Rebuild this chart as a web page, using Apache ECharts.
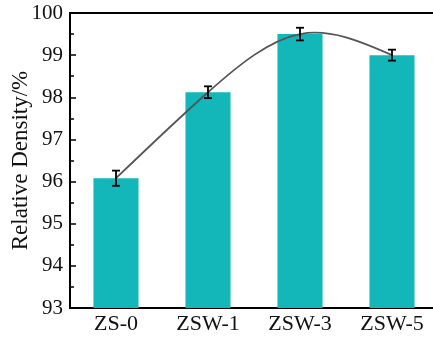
<!DOCTYPE html>
<html>
<head>
<meta charset="utf-8">
<script src="https://cdn.jsdelivr.net/npm/echarts@6/dist/echarts.min.js"></script>
<style>
html,body{margin:0;padding:0;background:#fff;}
#main{width:433px;height:340px;}
</style>
</head>
<body>
<div id="main"></div>
<script>
//样品名称
var categories = ['ZS-0', 'ZSW-1', 'ZSW-3', 'ZSW-5'];
//相对密度 (%)
var densityValues = [96.08, 98.12, 99.50, 99.00];
//误差
var errorValues = [0.18, 0.14, 0.15, 0.13];

var chart = echarts.init(document.getElementById('main'));
var fontName = "'Liberation Serif', 'Times New Roman', serif";

var errorData = [];
for (var i = 0; i < categories.length; i++) {
	errorData.push([i, densityValues[i] - errorValues[i], densityValues[i] + errorValues[i]]);
}

//自然三次样条 (各点斜率, 间距为1)
function splineSlopes(y) {
	var n = y.length;
	var M = [];
	for (var k = 0; k < n; k++) M.push(0);
	if (n > 2) {
		var a = [], b = [], c = [], d = [];
		for (var k = 1; k < n - 1; k++) {
			a.push(1); b.push(4); c.push(1);
			d.push(6 * (y[k - 1] - 2 * y[k] + y[k + 1]));
		}
		var m = d.length;
		for (var k = 1; k < m; k++) {
			var w = a[k] / b[k - 1];
			b[k] -= w * c[k - 1];
			d[k] -= w * d[k - 1];
		}
		var sol = new Array(m);
		sol[m - 1] = d[m - 1] / b[m - 1];
		for (var k = m - 2; k >= 0; k--) sol[k] = (d[k] - c[k] * sol[k + 1]) / b[k];
		for (var k = 0; k < m; k++) M[k + 1] = sol[k];
	}
	var slopes = [];
	for (var k = 0; k < n; k++) {
		if (k < n - 1) {
			slopes.push((y[k + 1] - y[k]) - (2 * M[k] + M[k + 1]) / 6);
		} else {
			slopes.push((y[k] - y[k - 1]) + (M[k - 1] + 2 * M[k]) / 6);
		}
	}
	return slopes;
}
var slopes = splineSlopes(densityValues);

var splineData = [];
for (var i = 0; i < densityValues.length - 1; i++) {
	splineData.push([i, densityValues[i]]);
}

//样条曲线分段绘制
function renderSpline(params, api) {
	var i = params.dataIndex;
	var y0 = densityValues[i], y1 = densityValues[i + 1];
	var p0 = api.coord([i, y0]);
	var p1 = api.coord([i + 1, y1]);
	var dx = (p1[0] - p0[0]) / 3;
	var c1 = api.coord([i, y0 + slopes[i] / 3]);
	var c2 = api.coord([i + 1, y1 - slopes[i + 1] / 3]);
	return {
		type: 'bezierCurve',
		shape: {
			x1: p0[0], y1: p0[1],
			x2: p1[0], y2: p1[1],
			cpx1: p0[0] + dx, cpy1: c1[1],
			cpx2: p1[0] - dx, cpy2: c2[1]
		},
		style: { stroke: '#555', lineWidth: 1.8, fill: null }
	};
}

//误差棒绘制
function renderErrorBar(params, api) {
	var lowPt = api.coord([api.value(0), api.value(1)]);
	var highPt = api.coord([api.value(0), api.value(2)]);
	var cap = 4;
	var style = { stroke: '#000', lineWidth: 1.8 };
	return {
		type: 'group',
		children: [
			{ type: 'line', shape: { x1: lowPt[0], y1: lowPt[1], x2: highPt[0], y2: highPt[1] }, style: style },
			{ type: 'line', shape: { x1: lowPt[0] - cap, y1: lowPt[1], x2: lowPt[0] + cap, y2: lowPt[1] }, style: style },
			{ type: 'line', shape: { x1: highPt[0] - cap, y1: highPt[1], x2: highPt[0] + cap, y2: highPt[1] }, style: style }
		]
	};
}

var option = {
	animation: false,
	grid: {
		left: 70,
		right: -5,
		top: 13,
		bottom: 32,
		outerBoundsMode: 'none',
		containLabel: false,
		show: true,
		borderColor: '#000',
		borderWidth: 2
	},
	xAxis: {
		type: 'category',
		data: categories,
		axisLine: { lineStyle: { color: '#000', width: 2 } },
		axisTick: { show: false },
		axisLabel: {
			color: '#111',
			fontFamily: fontName,
			fontSize: 22,
			margin: 5
		}
	},
	yAxis: {
		type: 'value',
		min: 93,
		max: 100,
		interval: 1,
		name: 'Relative Density/%',
		nameLocation: 'middle',
		nameGap: 38,
		nameMoveOverlap: false,
		nameTextStyle: {
			color: '#111',
			fontFamily: fontName,
			fontSize: 23
		},
		axisLine: { show: true, lineStyle: { color: '#000', width: 2 } },
		axisTick: { show: true, inside: true, length: 6, lineStyle: { color: '#000', width: 1.5 } },
		minorTick: { show: true, splitNumber: 2, length: 4, lineStyle: { color: '#000', width: 1.5 } },
		splitLine: { show: false },
		axisLabel: {
			color: '#111',
			fontFamily: fontName,
			fontSize: 21,
			margin: 7
		}
	},
	series: [
		{
			type: 'bar',
			data: densityValues,
			barWidth: '49%',
			itemStyle: { color: '#13b6b9' }
		},
		{
			type: 'custom',
			renderItem: renderSpline,
			data: splineData,
			z: 5
		},
		{
			type: 'custom',
			renderItem: renderErrorBar,
			data: errorData,
			z: 10
		}
	]
};
chart.setOption(option);
</script>
</body>
</html>
